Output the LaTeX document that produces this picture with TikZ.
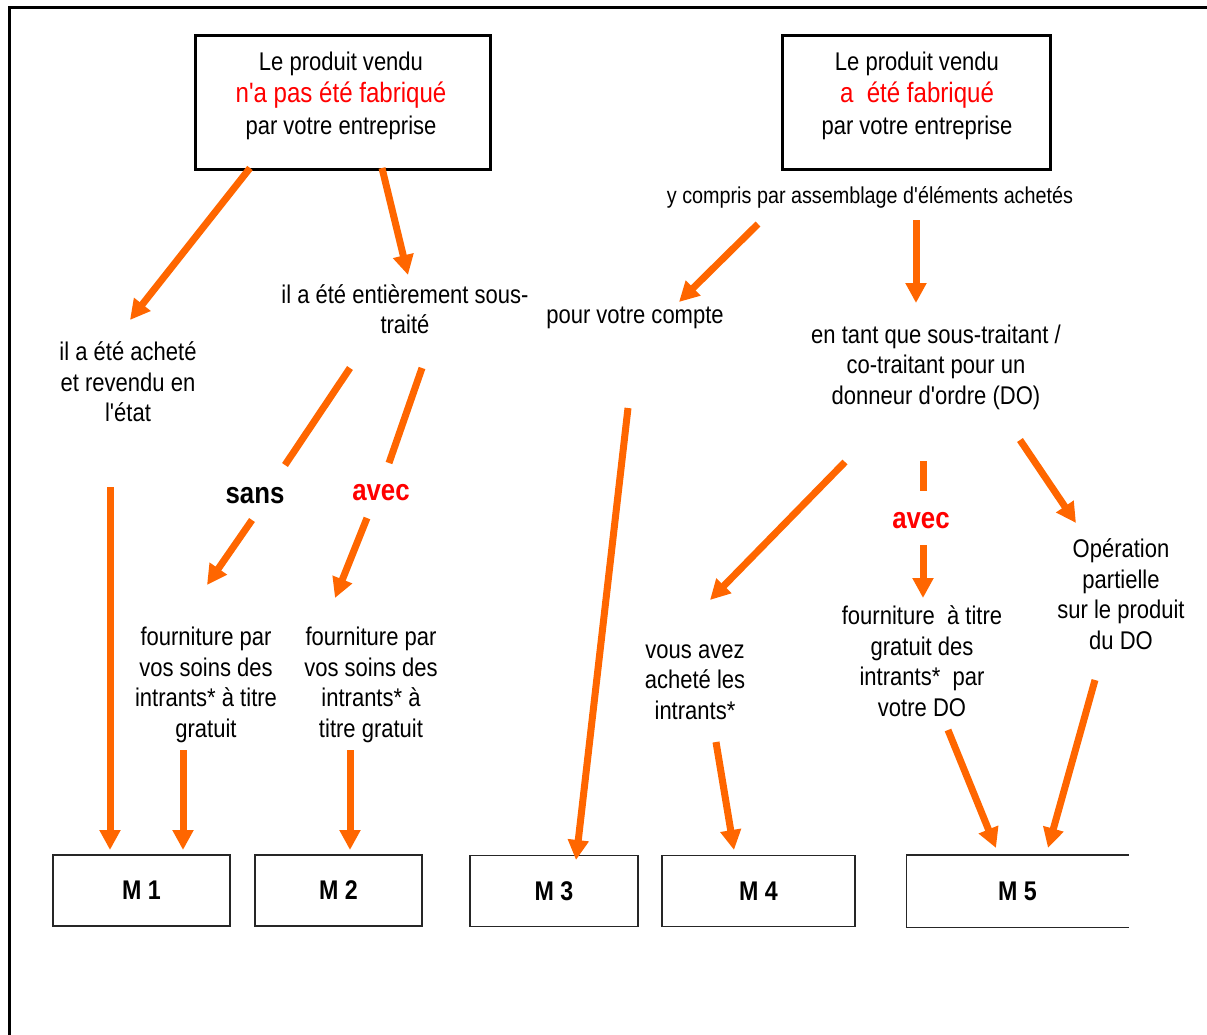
\documentclass[tikz,border=0pt]{standalone}
\usepackage{fontspec}
\setmainfont{Liberation Sans}[FakeStretch=0.86, Ligatures=TeXOff]
\usetikzlibrary{arrows.meta}
\definecolor{orng}{RGB}{255,102,0}
\definecolor{rd}{RGB}{255,0,0}
\newcommand{\redline}[1]{{\fontsize{14}{16}\selectfont\textcolor{rd}{#1}}}
\begin{document}
\begin{tikzpicture}[x=0.5pt,y=-0.5pt,
  txt/.style={inner sep=0pt, align=center, yshift=-1pt, font=\fontsize{12.8}{15.3}\selectfont},
  toptxt/.style={inner sep=0pt, align=center, yshift=-1pt, font=\fontsize{12.8}{16}\selectfont},
  bigbox/.style={draw, line width=1.5pt, minimum width=147.5pt, minimum height=67pt, inner sep=0pt},
  mbox/.style={draw=black!85, line width=0.75pt, inner sep=0pt, minimum height=35.5pt, font=\fontsize{13.5}{15}\selectfont\bfseries},
  kw/.style={inner sep=0pt, yshift=-1.5pt, font=\fontsize{15}{18}\selectfont\bfseries},
  arr/.style={draw=orng, line width=3.5pt, -{Triangle[width=10pt,length=10pt]}},
  seg/.style={draw=orng, line width=3.5pt},
]
\useasboundingbox (0,0) rectangle (1207,1035);
% frame
\draw[line width=1.5pt] (9,1045) -- (9,7.5) -- (1215,7.5);

% top boxes
\node[bigbox] (boxA) at (342.5,102) {};
\node[toptxt] (boxAt) at (341,94) {Le produit vendu\\\redline{n'a pas été fabriqué}\\ par votre entreprise};
\node[bigbox, minimum width=134pt] (boxB) at (916.5,102.5) {};
\node[toptxt] (boxBt) at (917,94) {Le produit vendu\\\redline{a\ \ été fabriqué}\\ par votre entreprise};
\node[txt, font=\fontsize{11.5}{14}\selectfont] (ycomp) at (870,195) {y compris par assemblage d'éléments achetés};

% texts left
\node[txt] (achete) at (128,380) {il a été acheté\\et revendu en\\l'état};
\node[txt] (sout) at (405,307) {il a été entièrement sous-\\traité};
\node[kw] (sans) at (255,493) {sans};
\node[kw, text=rd] (avecA) at (381,490) {avec};
\node[txt] (fourA) at (206,683) {fourniture par\\vos soins des\\intrants* à titre\\gratuit};
\node[txt] (fourB) at (371,683) {fourniture par\\vos soins des\\intrants* à\\titre gratuit};

% texts right
\node[txt] (compte) at (635,316) {pour votre compte};
\node[txt] (tant) at (936,365) {en tant que sous-traitant /\\co-traitant pour un\\donneur d'ordre (DO)};
\node[kw, text=rd] (avecB) at (921,518) {avec};
\node[txt] (vous) at (695,680) {vous avez\\acheté les\\intrants*};
\node[txt] (fourC) at (922,659) {fourniture\ \ à titre\\gratuit des\\intrants*\ \ par\\votre DO};
\node[txt] (oper) at (1121,592) {Opération\\partielle\\sur le produit\\du DO};

% M boxes
\node[mbox, minimum width=88.5pt] (M1) at (141.5,890.5) {M 1};
\node[mbox, minimum width=83.5pt] (M2) at (338.5,890.5) {M 2};
\node[mbox, minimum width=84pt] (M3) at (554,891) {M 3};
\node[mbox, minimum width=96.5pt] (M4) at (758.5,891) {M 4};
\node[mbox, draw=none, minimum width=110.5pt] (M5) at (1017.5,891) {M 5};
\draw[black!85, line width=0.75pt] (M5.north east) -- (M5.north west) -- (M5.south west) -- (M5.south east);

% connector coordinates
\coordinate (a1s) at (250,168); \coordinate (a1e) at (130,320);
\coordinate (a2s) at (382,168); \coordinate (a2e) at (408,275);
\coordinate (a3s) at (350,368); \coordinate (a3m) at (285,465);
\coordinate (a3n) at (252,520); \coordinate (a3e) at (207,585);
\coordinate (a4s) at (422,368); \coordinate (a4m) at (389,463);
\coordinate (a4n) at (367,518); \coordinate (a4e) at (335,598);
\coordinate (a5s) at (110,487); \coordinate (a5e) at (110,850);
\coordinate (a6s) at (183,750); \coordinate (a6e) at (183,850);
\coordinate (a7s) at (350,750); \coordinate (a7e) at (350,850);
\coordinate (b1s) at (758,224); \coordinate (b1e) at (679,302);
\coordinate (b2s) at (916,220); \coordinate (b2e) at (916,303);
\coordinate (b3s) at (628,408); \coordinate (b3e) at (576,860);
\coordinate (b4s) at (845,462); \coordinate (b4e) at (710,600);
\coordinate (b5s) at (923,461); \coordinate (b5m) at (923,491);
\coordinate (b5n) at (923,545); \coordinate (b5e) at (923,598);
\coordinate (b6s) at (1020,440); \coordinate (b6e) at (1076,523);
\coordinate (b7s) at (716,742); \coordinate (b7e) at (734,850);
\coordinate (b8s) at (948,730); \coordinate (b8e) at (996,848);
\coordinate (b9s) at (1095,680); \coordinate (b9e) at (1048,848);

% connectors
\draw[arr] (a1s) -- (a1e);
\draw[arr] (a2s) -- (a2e);
\draw[seg] (a3s) -- (a3m);
\draw[arr] (a3n) -- (a3e);
\draw[seg] (a4s) -- (a4m);
\draw[arr] (a4n) -- (a4e);
\draw[arr] (a5s) -- (a5e);
\draw[arr] (a6s) -- (a6e);
\draw[arr] (a7s) -- (a7e);
\draw[arr] (b1s) -- (b1e);
\draw[arr] (b2s) -- (b2e);
\draw[arr] (b3s) -- (b3e);
\draw[arr] (b4s) -- (b4e);
\draw[seg] (b5s) -- (b5m);
\draw[arr] (b5n) -- (b5e);
\draw[arr] (b6s) -- (b6e);
\draw[arr] (b7s) -- (b7e);
\draw[arr] (b8s) -- (b8e);
\draw[arr] (b9s) -- (b9e);
\end{tikzpicture}
\end{document}
